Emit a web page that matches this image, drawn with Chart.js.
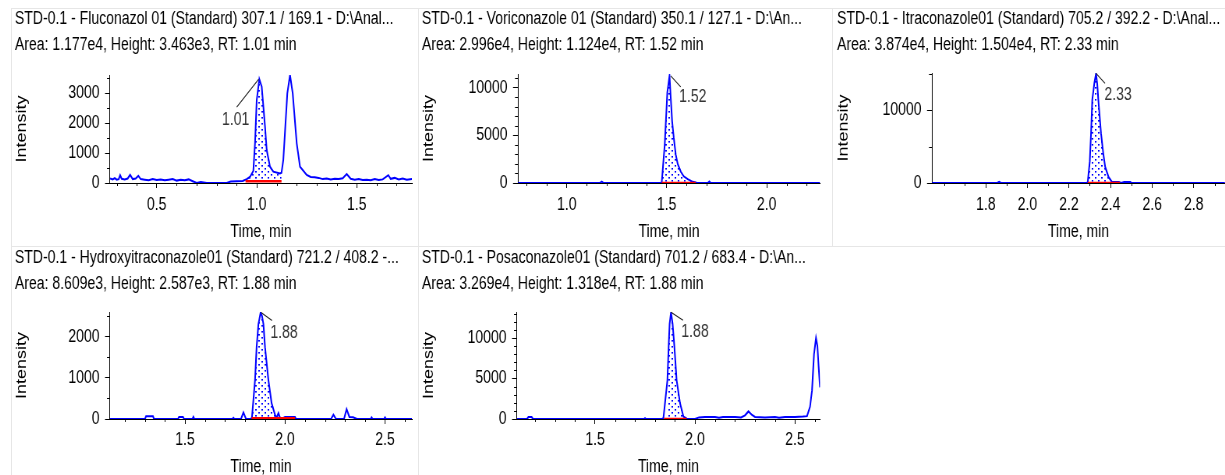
<!DOCTYPE html>
<html><head><meta charset="utf-8">
<script src="https://cdn.jsdelivr.net/npm/chart.js@4.4.1/dist/chart.umd.min.js"></script>
<style>
html,body{margin:0;padding:0;background:#fff;overflow:hidden;width:1225px;height:475px;}
.cell{position:absolute;transform-origin:0 0;}
.bl{position:absolute;background:#e6e6e6;}
</style></head><body>
<div class="bl" style="left:11px;top:8px;width:1214px;height:1px"></div>
<div class="bl" style="left:11px;top:246px;width:1214px;height:1px"></div>
<div class="bl" style="left:11px;top:8px;width:1px;height:467px"></div>
<div class="bl" style="left:418px;top:8px;width:1px;height:467px"></div>
<div class="bl" style="left:832px;top:8px;width:1px;height:238px"></div>
<script>
// ---------------- DATA ----------------
const fluTitle = ["STD-0.1 - Fluconazol 01 (Standard) 307.1 / 169.1 - D:\\Anal...", "Area: 1.177e4, Height: 3.463e3, RT: 1.01 min"];
const fluTime = [0.267,0.28,0.29,0.30,0.31,0.317,0.325,0.34,0.355,0.367,0.38,0.395,0.408,0.42,0.44,0.46,0.48,0.50,0.52,0.54,0.56,0.58,0.60,0.62,0.64,0.66,0.68,0.70,0.72,0.75,0.80,0.85,0.87,0.90,0.93,0.95,0.966,0.983,0.9915,1.00,1.013,1.025,1.0415,1.05,1.0665,1.083,1.1165,1.124,1.133,1.153,1.1665,1.18,1.20,1.2165,1.25,1.27,1.29,1.31,1.33,1.35,1.37,1.39,1.41,1.43,1.45,1.47,1.49,1.51,1.53,1.55,1.57,1.59,1.61,1.63,1.658,1.67,1.69,1.71,1.73,1.75,1.7765];
const fluIntensity = [150,120,160,110,130,260,140,120,150,270,130,150,240,130,110,90,130,100,120,90,110,130,80,110,90,120,60,0,30,0,0,0,50,60,70,130,200,400,1323,2767,3463,3210,1877,1100,543,377,320,340,767,2990,3600,2990,1323,543,267,200,190,170,130,150,120,140,130,160,300,140,110,130,100,110,90,130,100,120,260,140,170,120,150,110,130];
const fluBaseline = [0.944, 1.124, 57];
const fluPeak = [1.01, 3463];
const fluXTicks = [0.5, 1.0, 1.5];
const fluYTicks = [0, 1000, 2000, 3000];

const voriTitle = ["STD-0.1 - Voriconazole 01 (Standard) 350.1 / 127.1 - D:\\An...", "Area: 2.996e4, Height: 1.124e4, RT: 1.52 min"];
const voriTime = [0.7565,1.165,1.175,1.185,1.47,1.475,1.49,1.503,1.514,1.52,1.527,1.535,1.545,1.555,1.57,1.585,1.605,1.63,1.645,1.65,1.705,1.713,1.72,2.2665];
const voriIntensity = [0,0,150,0,0,50,4000,9500,11240,9000,6500,4800,3000,2000,1200,700,400,120,60,0,0,150,0,0];
const voriBaseline = [1.475, 1.645, 0];
const voriPeak = [1.52, 11240];
const voriXTicks = [1.0, 1.5, 2.0];
const voriYTicks = [0, 5000, 10000];

const itraTitle = ["STD-0.1 - Itraconazole01 (Standard) 705.2 / 392.2 - D:\\Anal...", "Area: 3.874e4, Height: 1.504e4, RT: 2.33 min"];
const itraTime = [1.5415,1.855,1.864,1.873,2.285,2.29,2.30,2.306,2.312,2.322,2.33,2.336,2.341,2.354,2.365,2.374,2.39,2.4065,2.42,2.44,2.45,2.465,2.495,2.50,2.95];
const itraIntensity = [0,0,150,0,0,100,3000,6800,11400,13740,15040,13500,11430,6800,4000,2200,830,140,150,150,0,150,150,0,0];
const itraBaseline = [2.29, 2.445, 0];
const itraPeak = [2.33, 15040];
const itraXTicks = [1.8, 2.0, 2.2, 2.4, 2.6, 2.8];
const itraYTicks = [0, 10000];

const hydTitle = ["STD-0.1 - Hydroxyitraconazole01 (Standard) 721.2 / 408.2 -...", "Area: 8.609e3, Height: 2.587e3, RT: 1.88 min"];
const hydTime = [1.125,1.30,1.305,1.34,1.345,1.465,1.47,1.49,1.495,1.537,1.542,1.547,1.737,1.742,1.747,1.78,1.792,1.805,1.83,1.835,1.85,1.858,1.867,1.878,1.885,1.892,1.90,1.917,1.933,1.95,1.958,1.967,1.975,1.99,2.00,2.05,2.055,2.23,2.242,2.255,2.295,2.308,2.322,2.34,2.36,2.428,2.433,2.438,2.495,2.50,2.505,2.635];
const hydIntensity = [0,0,65,65,0,0,50,50,0,0,50,0,0,30,0,0,160,0,0,50,945,1746,2307,2587,2500,2307,1746,945,385,100,30,145,30,20,50,50,0,0,105,0,0,240,50,40,0,0,40,0,0,40,0,0];
const hydBaseline = [1.833, 2.05, 20];
const hydPeak = [1.88, 2587];
const hydXTicks = [1.5, 2.0, 2.5];
const hydYTicks = [0, 1000, 2000];

const posaTitle = ["STD-0.1 - Posaconazole01 (Standard) 701.2 / 683.4 - D:\\An...", "Area: 3.269e4, Height: 1.318e4, RT: 1.88 min"];
const posaTime = [1.11,1.16,1.167,1.183,1.19,1.745,1.75,1.755,1.835,1.842,1.862,1.868,1.873,1.88,1.888,1.897,1.908,1.925,1.942,1.955,1.96,2.0,2.02,2.05,2.10,2.12,2.14,2.20,2.23,2.25,2.267,2.285,2.30,2.35,2.40,2.42,2.45,2.50,2.54,2.56,2.575,2.585,2.595,2.605,2.612,2.618,2.625];
const posaIntensity = [0,0,250,250,0,0,100,0,0,100,4800,8900,11750,13180,11750,8900,4800,1960,300,100,0,0,200,250,250,150,250,250,200,450,940,500,250,200,250,150,250,250,300,350,1500,3500,8000,10000,9000,6500,3900];
const posaBaseline = [1.845, 1.958, 0];
const posaPeak = [1.88, 13180];
const posaXTicks = [1.5, 2.0, 2.5];
const posaYTicks = [0, 5000, 10000];

// ---------------- LAYOUT / STYLE ----------------
const S = 0.78;               // horizontal condensing of the whole picture
const FONT = "'Liberation Sans', Arial, sans-serif";
const LH = 26;                // title line height
const panels = [
  {title: fluTitle, t: fluTime, v: fluIntensity, base: fluBaseline, peak: fluPeak, xt: fluXTicks, yt: fluYTicks,
   cell: [11, 8, 407, 238], area: [110, 412, 75, 183], xr: [0.2665, 1.7765], ymax: 3600, xMinor: 0.1, yMinor: 500,
   line1: 19, xTitle: 232, xPad: 6, lab: [-22, 28, -23, 41]},
  {title: voriTitle, t: voriTime, v: voriIntensity, base: voriBaseline, peak: voriPeak, xt: voriXTicks, yt: voriYTicks,
   cell: [418, 8, 414, 238], area: [518, 820, 74, 183], xr: [0.7565, 2.2665], ymax: 11430, xMinor: 0.1, yMinor: 1000,
   line1: 19, xTitle: 232, xPad: 6, lab: [10, 11, 22, 21]},
  {title: itraTitle, t: itraTime, v: itraIntensity, base: itraBaseline, peak: itraPeak, xt: itraXTicks, yt: itraYTicks,
   cell: [832, 8, 393, 238], area: [932, 1225, 73, 183], xr: [1.5415, 2.95], ymax: 15100, xMinor: 0.1, yMinor: 5000,
   line1: 19, xTitle: 232, xPad: 6, lab: [9, 10, 22, 22], padL: 6.5},
  {title: hydTitle, t: hydTime, v: hydIntensity, base: hydBaseline, peak: hydPeak, xt: hydXTicks, yt: hydYTicks,
   cell: [11, 246, 407, 240], area: [110, 412, 312, 419], xr: [1.125, 2.635], ymax: 2600, xMinor: 0.1, yMinor: 500,
   line1: 258, xTitle: 467, xPad: 5, lab: [11, 8, 23, 20]},
  {title: posaTitle, t: posaTime, v: posaIntensity, base: posaBaseline, peak: posaPeak, xt: posaXTicks, yt: posaYTicks,
   cell: [418, 246, 414, 240], area: [517, 820, 312, 419], xr: [1.11, 2.625], ymax: 13210, xMinor: 0.1, yMinor: 1000,
   line1: 258, xTitle: 467, xPad: 5, lab: [12, 8, 24, 20]}
];

function dotPattern() {
  const c = document.createElement('canvas');
  c.width = 8; c.height = 6;
  const g = c.getContext('2d');
  g.fillStyle = '#0000ff';
  g.fillRect(1, 1, 2, 1.6);
  g.fillRect(5, 4, 2, 1.6);
  return g.createPattern(c, 'repeat');
}

const minorTicks = {
  id: 'minorTicks',
  afterDraw(chart, args, o) {
    if (!o || !o.x) return;
    const ctx = chart.ctx, xs = chart.scales.x, ys = chart.scales.y;
    ctx.save(); ctx.strokeStyle = '#000'; ctx.lineWidth = 1;
    const gen = (min, max, step, majors) => {
      const out = [];
      for (let k = Math.ceil(min / step - 1e-9); k * step <= max + 1e-9; k++) {
        const v = +(k * step).toFixed(6);
        if (!majors.some(m => Math.abs(m - v) < 1e-6)) out.push(v);
      }
      return out;
    };
    ctx.beginPath();
    gen(xs.min, xs.max, o.x, o.xt).forEach(v => {
      const p = Math.round(xs.getPixelForValue(v)) + 0.5;
      ctx.moveTo(p, xs.top); ctx.lineTo(p, xs.top + 3);
    });
    gen(ys.min, ys.max, o.y, o.yt).forEach(v => {
      const p = Math.round(ys.getPixelForValue(v)) + 0.5;
      ctx.moveTo(ys.right, p); ctx.lineTo(ys.right - 3 / S, p);
    });
    ctx.stroke(); ctx.restore();
  }
};

const peakLabel = {
  id: 'peakLabel',
  afterDatasetsDraw(chart, args, o) {
    if (!o || !o.rt) return;
    const ctx = chart.ctx;
    const px = chart.scales.x.getPixelForValue(o.rt), py = chart.scales.y.getPixelForValue(o.h);
    ctx.save();
    ctx.strokeStyle = '#202020'; ctx.lineWidth = 1.1;
    ctx.beginPath(); ctx.moveTo(px, py); ctx.lineTo(px + o.off[0] / S, py + o.off[1]); ctx.stroke();
    ctx.fillStyle = '#333'; ctx.font = '18px ' + FONT;
    ctx.textAlign = 'center'; ctx.textBaseline = 'middle';
    ctx.fillText(o.rt.toFixed(2), px + o.off[2] / S, py + o.off[3]);
    ctx.restore();
  }
};

Chart.defaults.font.family = FONT;
Chart.defaults.font.size = 18;
Chart.defaults.font.weight = 'normal';
Chart.defaults.color = '#000';

panels.forEach((p, i) => {
  const [x0, y0, w, h] = p.cell;
  const [al, ar, at, ab] = p.area;
  const preW = Math.ceil(w / S);
  const padL = p.padL || 5;
  const padTop = p.line1 - y0 - LH / 2;
  const padBot = at - y0 - padTop - 2 * LH;
  const xH = (y0 + h) - ab;
  const xTitlePB = (y0 + h) - p.xTitle - 10.8;
  const div = document.createElement('div');
  div.className = 'cell';
  div.style.left = x0 + 'px'; div.style.top = y0 + 'px';
  div.style.transform = 'scaleX(' + S + ')';
  const cv = document.createElement('canvas');
  cv.width = preW; cv.height = h;
  cv.style.width = preW + 'px'; cv.style.height = h + 'px';
  div.appendChild(cv); document.body.appendChild(div);

  const series = p.t.map((x, k) => ({x, y: p.v[k]}));
  const fillPts = series.filter(q => q.x >= p.base[0] - 1e-9 && q.x <= p.base[1] + 1e-9);
  const basePts = [{x: p.base[0], y: p.base[2]}, {x: p.base[1], y: p.base[2]}];

  new Chart(cv, {
    type: 'line',
    data: {datasets: [
      {data: basePts, borderColor: '#ff0000', borderWidth: 2.5, pointRadius: 0, fill: false, order: 0},
      {data: series, borderColor: '#0000ff', borderWidth: 2, pointRadius: 0, fill: false, order: 1},
      {data: fillPts, borderColor: 'rgba(0,0,0,0)', borderWidth: 0, pointRadius: 0, backgroundColor: dotPattern(),
       fill: {value: p.base[2]}, order: 2}
    ]},
    options: {
      responsive: false, animation: false, devicePixelRatio: 1, events: [],
      layout: {padding: {left: padL, right: preW - (ar - x0) / S, top: 0, bottom: 0}},
      plugins: {
        legend: {display: false}, tooltip: {enabled: false},
        title: {display: true, text: p.title, align: 'start', color: '#000',
                font: {size: 18, weight: 'normal', lineHeight: LH / 18}, padding: {top: padTop, bottom: padBot}},
        minorTicks: {x: p.xMinor, y: p.yMinor, xt: p.xt, yt: p.yt},
        peakLabel: {rt: p.peak[0], h: p.peak[1], off: p.lab}
      },
      scales: {
        x: {type: 'linear', min: p.xr[0], max: p.xr[1],
            afterBuildTicks: s => { s.ticks = p.xt.map(v => ({value: v})); },
            afterFit: s => { s.height = xH; },
            ticks: {autoSkip: false, maxRotation: 0, padding: p.xPad, color: '#000', callback: v => Number(v).toFixed(1)},
            grid: {display: true, drawOnChartArea: false, drawTicks: true, tickLength: 5, tickColor: '#000'},
            border: {display: true, color: '#000', width: 1},
            title: {display: true, text: 'Time, min', color: '#000', font: {size: 18, lineHeight: 1.2}, padding: {top: 0, bottom: xTitlePB}}},
        y: {type: 'linear', min: 0, max: p.ymax,
            afterBuildTicks: s => { s.ticks = p.yt.map(v => ({value: v})); },
            afterFit: s => { s.width = (al - x0) / S - padL; },
            ticks: {autoSkip: false, padding: 7, color: '#000', callback: v => String(v)},
            grid: {display: true, drawOnChartArea: false, drawTicks: true, tickLength: 6.4, tickColor: '#000'},
            border: {display: true, color: '#000', width: 1},
            title: {display: true, text: 'Intensity', color: '#000', font: {size: 18, lineHeight: 1.0}, padding: {top: 0, bottom: 0}}}
      }
    },
    plugins: [minorTicks, peakLabel]
  });
});
</script></body></html>
